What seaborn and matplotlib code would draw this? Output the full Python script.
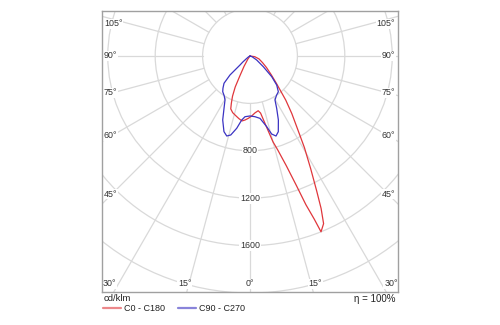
import numpy as np
import pandas as pd
import matplotlib
matplotlib.use("Agg")
import matplotlib.pyplot as plt
from matplotlib.patches import Circle
import seaborn as sns

# ---------------- data (angle from nadir in degrees, negative = C180 / C270 side) -------------
c0_angles = [-90, -40, -35, -30, -27, -25.5, -23.5, -21.5, -20, -17, -13, -10, -7, -4.5,
             -1.5, 1.5, 5, 8.5, 10.5, 12, 13.5, 15, 16.5, 18.3, 19.7, 20.6, 21.5, 22,
             23.7, 25, 26.3, 28.3, 30.7, 33, 36, 39, 41, 44, 48.5, 55, 62, 72, 82, 90]
c0_values = [0, 0, 30, 100, 190, 290, 370, 430, 475, 500, 520, 537, 552, 542,
             526, 507, 482, 467, 490, 555, 640, 750, 830, 975, 1160, 1340, 1480, 1600,
             1545, 1420, 1270, 1080, 900, 740, 600, 480, 400, 320, 240, 170, 120, 80, 40, 0]

c90_angles = [-90, -60, -53, -50, -48, -46.5, -43.6, -40, -37.4, -33, -29.6, -26.4, -23.1,
              -19, -16.2, -13.7, -10.4, -7.4, -4.7, 0, 4.7, 9.1, 13.3, 15.5, 18, 20.5,
              23.9, 27, 29.6, 34, 38.4, 42.6, 46.4, 51.2, 59, 70, 90]
c90_values = [0, 15, 40, 80, 114, 233, 318, 355, 379, 400, 427, 493, 587,
              675, 703, 686, 620, 545, 514, 506, 514, 533, 613, 683, 710, 682,
              591, 496, 427, 400, 385, 333, 253, 144, 66, 20, 0]

series_names = ["C0 - C180", "C90 - C270"]
series_colors = ["#e0373c", "#3b33c2"]

ring_values = [400, 800, 1200, 1600, 2000, 2400]
ring_labels = [800, 1200, 1600]
side_angles = [45, 60, 75, 90, 105]
bottom_angles = [-30, -15, 0, 15, 30]
unit_label = "cd/klm"
efficiency_label = "\u03b7 = 100%"

# ---------------- build a tidy frame -------------
rows = []
for name, ang, val in [(series_names[0], c0_angles, c0_values),
                       (series_names[1], c90_angles, c90_values)]:
    a = np.radians(np.array(ang, dtype=float))
    v = np.array(val, dtype=float)
    for i in range(len(a)):
        rows.append({"plane": name, "x": v[i] * np.sin(a[i]), "y": -v[i] * np.cos(a[i]), "order": i})
df = pd.DataFrame(rows)

# ---------------- figure -------------
sns.set_style("white")
plt.rcParams["font.family"] = ["Liberation Sans", "DejaVu Sans"]
W, H = 500, 325
fig = plt.figure(figsize=(W / 100, H / 100), dpi=100)
left_px, right_px, top_px, bottom_px = 102, 398, 11, 292
ax = fig.add_axes([left_px / W, 1 - bottom_px / H, (right_px - left_px) / W, (bottom_px - top_px) / H])

cx_px, cy_px = 250, 56
s = 47.4 / 400.0  # px per cd/klm
ax.set_xlim(-(cx_px - left_px) / s, (right_px - cx_px) / s)
ax.set_ylim(-(bottom_px - cy_px) / s, (cy_px - top_px) / s)

grid_c = "#d9d9d9"
for r in ring_values:
    ax.add_patch(Circle((0, 0), r, fill=False, ec=grid_c, lw=0.9, zorder=1))
for a in range(0, 360, 15):
    t = np.radians(a)
    ax.plot([400 * np.sin(t), 4000 * np.sin(t)], [-400 * np.cos(t), -4000 * np.cos(t)],
            color=grid_c, lw=0.9, zorder=1)

sns.lineplot(data=df, x="x", y="y", hue="plane", sort=False, estimator=None,
             palette=dict(zip(series_names, series_colors)), lw=0.9, ax=ax, zorder=3)

bb = dict(facecolor="white", edgecolor="none", pad=0.6)
fs = 6.4
tc = "#333333"
for v in ring_labels:
    ax.text(0, -v, str(v), ha="center", va="center", fontsize=fs, color=tc, bbox=bb, zorder=2)

X = 138 / s
for a in side_angles:
    y = -X / np.tan(np.radians(a)) if a != 90 else 0.0
    y = min(y, 32 / s)
    ax.text(-(cx_px - left_px - 2) / s, y, f"{a}\u00b0", ha="left", va="center", fontsize=fs,
            color=tc, bbox=bb, zorder=2)
    ax.text((right_px - cx_px - 3) / s, y, f"{a}\u00b0", ha="right", va="center", fontsize=fs,
            color=tc, bbox=bb, zorder=2)

yb = -(284 - cy_px) / s
for a in bottom_angles:
    x = 244 / s * np.tan(np.radians(a))
    ax.text(x, yb, f"{abs(a)}\u00b0", ha="center", va="center", fontsize=fs, color=tc,
            bbox=bb, zorder=2)

ax.set_xticks([])
ax.set_yticks([])
ax.set_xlabel("")
ax.set_ylabel("")
for sp in ax.spines.values():
    sp.set_color("#a0a0a0")
    sp.set_linewidth(1.0)

sns.move_legend(ax, "upper left", bbox_to_anchor=(103 / W, 1 - 304 / H),
                bbox_transform=fig.transFigure, frameon=False, ncol=2, title=None,
                fontsize=6.5, handlelength=2.0, handletextpad=0.3, columnspacing=1.5,
                borderpad=0, borderaxespad=0)
for line in ax.get_legend().get_lines():
    line.set_linewidth(1.6)
    line.set_alpha(0.6)
for t in ax.get_legend().get_texts():
    t.set_color("#222222")

fig.text(104 / W, 1 - 298.5 / H, unit_label, ha="left", va="center", fontsize=6.8, color="#222222")
fig.text(395 / W, 1 - 299.5 / H, efficiency_label, ha="right", va="center", fontsize=7.0, color="#222222")

fig.savefig("out.png", dpi=100, facecolor="white")
